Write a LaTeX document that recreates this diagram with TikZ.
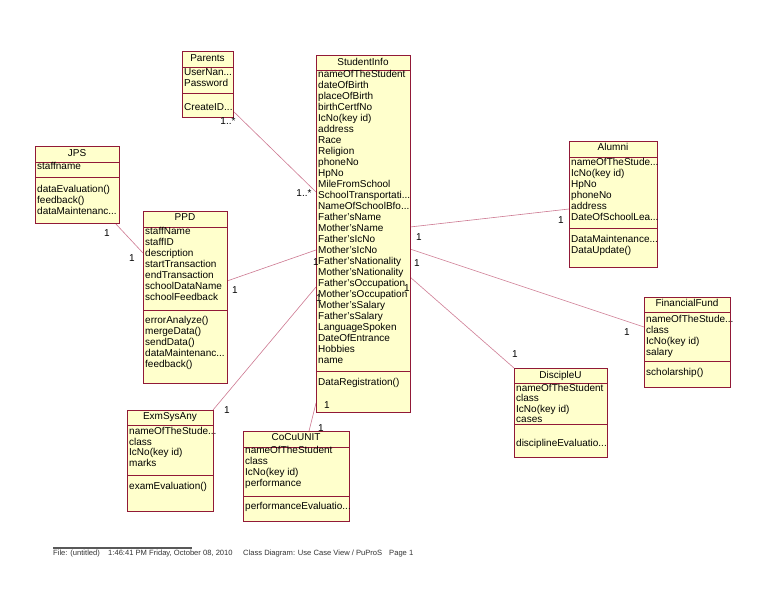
\documentclass[tikz,border=0pt]{standalone}
\usepackage{fontspec}
\setmainfont{Liberation Sans}
\definecolor{bord}{RGB}{145,25,55}
\definecolor{fillc}{RGB}{255,255,204}
\definecolor{conn}{RGB}{205,120,145}
\newcommand\umlbox[7]{%
  \node[clsbox, minimum width=#4pt, minimum height=#5pt] (#1) at (#2+#4/2, #3+#5/2) {};
  \draw[clsline] (#1.north west) ++(0,#6) -- ++(#4,0);
  \draw[clsline] (#1.north west) ++(0,#7) -- ++(#4,0);
}
\begin{document}
\begin{tikzpicture}[x=1pt,y=-1pt,
  clsbox/.style={draw=bord, fill=fillc, line width=0.8pt, inner sep=0, outer sep=0},
  clsline/.style={draw=bord, line width=0.8pt},
  conline/.style={draw=conn, line width=0.6pt},
  txt/.style={anchor=north west, align=left, inner sep=0, font=\fontsize{10}{11}\selectfont},
  ttl/.style={anchor=base, inner sep=0, font=\fontsize{10}{11}\selectfont},
  lbl/.style={inner sep=0, font=\fontsize{10}{11}\selectfont},
  foot/.style={anchor=base west, inner sep=0, font=\fontsize{7.6}{9}\selectfont, text=black!80}]
\useasboundingbox[fill=white] (0,0) rectangle (768,594);

% endpoints of connectors
\coordinate (c1a) at (232,110); \coordinate (c1b) at (316,192);
\coordinate (c2a) at (115,223); \coordinate (c2b) at (143,253);
\coordinate (c3a) at (227,281); \coordinate (c3b) at (316,250);
\coordinate (c4a) at (213,410); \coordinate (c4b) at (316,287);
\coordinate (c5a) at (309,431); \coordinate (c5b) at (316,403);
\coordinate (c6a) at (410,227); \coordinate (c6b) at (569,209);
\coordinate (c7a) at (410,249); \coordinate (c7b) at (644,327);
\coordinate (c8a) at (410,277); \coordinate (c8b) at (514,368);

\draw[conline] (c1a) -- (c1b);
\draw[conline] (c2a) -- (c2b);
\draw[conline] (c3a) -- (c3b);
\draw[conline] (c4a) -- (c4b);
\draw[conline] (c5a) -- (c5b);
\draw[conline] (c6a) -- (c6b);
\draw[conline] (c7a) -- (c7b);
\draw[conline] (c8a) -- (c8b);

% Parents
\umlbox{par}{182}{51}{51}{66}{16}{42}
\node[ttl] (par-t) at (207.5,61.3) {Parents};
\node[txt] (par-a) at (184,68.4) {UserNan...\\Password};
\node[txt] (par-m) at (184,103.4) {CreateID...};

% StudentInfo
\umlbox{si}{316}{55}{94}{357}{15}{316}
\node[ttl] (si-t) at (363,65.3) {StudentInfo};
\node[txt] (si-a) at (318,70.4) {nameOfTheStudent\\dateOfBirth\\placeOfBirth\\birthCertfNo\\IcNo(key id)\\address\\Race\\Religion\\phoneNo\\HpNo\\MileFromSchool\\SchoolTransportati...\\NameOfSchoolBfo...\\Father'sName\\Mother'sName\\Father'sIcNo\\Mother'sIcNo\\Father'sNationality\\Mother'sNationality\\Father'sOccupation\\Mother'sOccupation\\Mother'sSalary\\Father'sSalary\\LanguageSpoken\\DateOfEntrance\\Hobbies\\name};
\node[txt] (si-m) at (318,378.4) {DataRegistration()};

% JPS
\umlbox{jps}{35}{146}{84}{77}{16}{31}
\node[ttl] (jps-t) at (77,156.3) {JPS};
\node[txt] (jps-a) at (37,162.4) {staffname};
\node[txt] (jps-m) at (37,185.4) {dataEvaluation()\\feedback()\\dataMaintenanc...};

% PPD
\umlbox{ppd}{143}{211}{84}{172}{16}{99}
\node[ttl] (ppd-t) at (185,220.3) {PPD};
\node[txt] (ppd-a) at (145,227.1) {staffName\\staffID\\description\\startTransaction\\endTransaction\\schoolDataName\\schoolFeedback};
\node[txt] (ppd-m) at (145,316.4) {errorAnalyze()\\mergeData()\\sendData()\\dataMaintenanc...\\feedback()};

% Alumni
\umlbox{alu}{569}{141}{88}{126}{16}{87}
\node[ttl] (alu-t) at (613,150.3) {Alumni};
\node[txt] (alu-a) at (571,158.1) {nameOfTheStude...\\IcNo(key id)\\HpNo\\phoneNo\\address\\DateOfSchoolLea...};
\node[txt] (alu-m) at (571,234.7) {DataMaintenance...\\DataUpdate()};

% FinancialFund
\umlbox{ff}{644}{297}{86}{90}{15}{64}
\node[ttl] (ff-t) at (687,306.3) {FinancialFund};
\node[txt] (ff-a) at (646,315.2) {nameOfTheStude...\\class\\IcNo(key id)\\salary};
\node[txt] (ff-m) at (646,368.1) {scholarship()};

% DiscipleU
\umlbox{dis}{514}{368}{93}{89}{15}{56}
\node[ttl] (dis-t) at (560.5,378.6) {DiscipleU};
\node[txt, font=\fontsize{10}{10.6}\selectfont] (dis-a) at (516,383.6) {nameOfTheStudent\\class\\IcNo(key id)\\cases};
\node[txt] (dis-m) at (516,439.1) {disciplineEvaluatio...};

% ExmSysAny
\umlbox{exm}{127}{410}{86}{101}{15}{65}
\node[ttl] (exm-t) at (170,419.6) {ExmSysAny};
\node[txt, font=\fontsize{10}{10.6}\selectfont] (exm-a) at (129,427.2) {nameOfTheStude...\\class\\IcNo(key id)\\marks};
\node[txt] (exm-m) at (129,482.4) {examEvaluation()};

% CoCuUNIT
\umlbox{coc}{243}{431}{106}{90}{16}{65}
\node[ttl] (coc-t) at (296,440.3) {CoCuUNIT};
\node[txt] (coc-a) at (245,446.4) {nameOfTheStudent\\class\\IcNo(key id)\\performance};
\node[txt] (coc-m) at (245,502.4) {performanceEvaluatio...};

% multiplicities
\node[lbl] (m1a) at (228,121) {1..*};
\node[lbl] (m1b) at (304,193) {1..*};
\node[lbl] (m2a) at (107,233) {1};
\node[lbl] (m2b) at (132,258) {1};
\node[lbl] (m3a) at (235,290) {1};
\node[lbl] (m3b) at (316,262) {1};
\node[lbl] (m4a) at (227,410) {1};
\node[lbl] (m4b) at (319,298) {1};
\node[lbl] (m5a) at (327,405) {1};
\node[lbl] (m5b) at (321,428) {1};
\node[lbl] (m6a) at (419,237) {1};
\node[lbl] (m6b) at (561,220) {1};
\node[lbl] (m7a) at (417,263) {1};
\node[lbl] (m7b) at (627,332) {1};
\node[lbl] (m8a) at (407,288) {1};
\node[lbl] (m8b) at (515,354) {1};

% footer
\draw[line width=1.2pt, black!65] (53,548) -- (192,548);
\node[foot] (f1) at (53,555) {File: (untitled)};
\node[foot] (f2) at (108,555) {1:46:41 PM Friday, October 08, 2010};
\node[foot] (f3) at (243,555) {Class Diagram: Use Case View / PuProS};
\node[foot] (f4) at (389,555) {Page 1};
\end{tikzpicture}
\end{document}
